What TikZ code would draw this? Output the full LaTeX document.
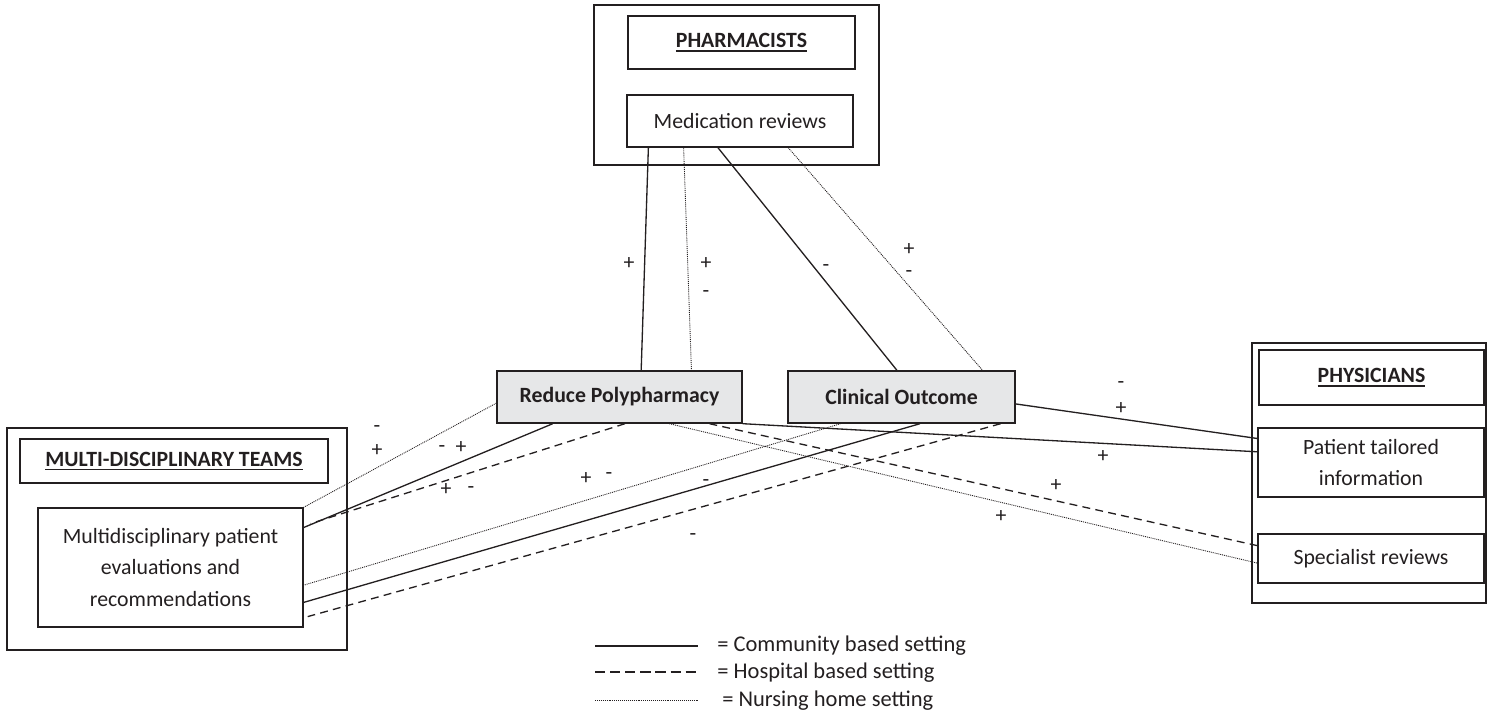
\documentclass[tikz,border=0pt]{standalone}
\usepackage{fontspec}
\setmainfont{Carlito}
\usetikzlibrary{calc}
\definecolor{boxgray}{RGB}{230,231,232}
\definecolor{inkgray}{RGB}{35,31,32}
\newcommand{\ultitle}[1]{\setbox0\hbox{#1}\leavevmode\rlap{\rule[-2.3pt]{\wd0}{0.9pt}}\box0}

\begin{document}
\begin{tikzpicture}[x=0.02cm,y=-0.02cm,
  every node/.style={inner sep=0pt,text=inkgray,font=\fontsize{12.4}{18}\selectfont},
  box/.style={draw=inkgray,line width=0.8pt,align=center},
  title/.style={box,font=\fontsize{12.4}{18}\selectfont\bfseries},
  effect/.style={box,fill=boxgray,font=\fontsize{12.4}{18}\selectfont\bfseries},
  comm/.style={draw=inkgray,line width=0.75pt},
  hosp/.style={draw=inkgray,line width=0.75pt,dash pattern=on 4.5pt off 3pt},
  nurs/.style={draw=inkgray,line width=0.5pt,dash pattern=on 0.55pt off 0.55pt},
  sign/.style={font=\fontsize{12.4}{18}\selectfont},
  legend/.style={anchor=base west,font=\fontsize{12.8}{18}\selectfont}]
\useasboundingbox (0,0) rectangle (1488,722);

% pharmacists
\node [box,minimum width=5.70cm,minimum height=3.20cm] (pharm) at (736.5,85) {};
\node [title,minimum width=4.54cm,minimum height=1.06cm] (pharmt) at (741.5,42.5) {\ultitle{PHARMACISTS}};
\node [box,minimum width=4.52cm,minimum height=1.04cm] (medrev) at (740,121) {Medication reviews};

% outcomes
\node [effect,minimum width=4.90cm,minimum height=1.04cm] (rp) at (619.5,397) {Reduce Polypharmacy};
\node [effect,minimum width=4.54cm,minimum height=1.04cm] (co) at (901.5,397) {Clinical Outcome};

% physicians
\node [box,minimum width=4.68cm,minimum height=5.20cm] (phys) at (1369,473) {};
\node [title,minimum width=4.50cm,minimum height=1.10cm] (physt) at (1371.5,377.5) {\ultitle{PHYSICIANS}};
\node [box,minimum width=4.52cm,minimum height=1.38cm] (ptinfo) at (1371,462.5) {Patient tailored\\information};
\node [box,minimum width=4.52cm,minimum height=0.98cm] (specrev) at (1371,558.5) {Specialist reviews};

% multi-disciplinary teams
\node [box,minimum width=6.80cm,minimum height=4.44cm] (mdt) at (177,539) {};
\node [title,minimum width=6.16cm,minimum height=0.88cm] (mdtt) at (174,461) {\ultitle{MULTI-DISCIPLINARY TEAMS}};
\node [box,minimum width=5.30cm,minimum height=2.38cm] (eval) at (170.5,567.5) {Multidisciplinary patient\\evaluations and\\recommendations};

% pharmacists -> outcomes
\draw [comm] ($(medrev.south west)!0.097!(medrev.south east)$) -- ($(rp.north west)!0.588!(rp.north east)$);
\draw [nurs] ($(medrev.south west)!0.252!(medrev.south east)$) -- ($(rp.north west)!0.792!(rp.north east)$);
\draw [comm] ($(medrev.south west)!0.403!(medrev.south east)$) -- ($(co.north west)!0.480!(co.north east)$);
\draw [nurs] ($(medrev.south west)!0.712!(medrev.south east)$) -- ($(co.north west)!0.855!(co.north east)$);

% teams -> outcomes
\draw [nurs] ($(rp.south west)!0.385!(rp.north west)$) -- (eval.north east);
\draw [comm] ($(rp.south west)!0.229!(rp.south east)$) -- ($(eval.north east)!0.168!(eval.south east)$);
\draw [hosp] ($(rp.south west)!0.522!(rp.south east)$) -- ($(eval.north east)!0.135!(eval.south east)+(7,0)$);
\draw [nurs] ($(co.south west)!0.233!(co.south east)$) -- ($(eval.north east)!0.647!(eval.south east)$);
\draw [comm] ($(co.south west)!0.581!(co.south east)$) -- ($(eval.north east)!0.790!(eval.south east)$);
\draw [hosp] ($(co.south west)!0.934!(co.south east)$) -- ($(eval.north east)!0.908!(eval.south east)+(4,0)$);

% physicians -> outcomes
\draw [comm] ($(co.south east)!0.37!(co.north east)$) -- ($(ptinfo.north west)!0.159!(ptinfo.south west)$);
\draw [comm] (rp.south east) -- ($(ptinfo.north west)!0.348!(ptinfo.south west)$);
\draw [hosp] ($(rp.south west)!0.865!(rp.south east)$) -- ($(specrev.north west)!0.245!(specrev.south west)$);
\draw [nurs] ($(rp.south west)!0.702!(rp.south east)$) -- ($(specrev.north west)!0.592!(specrev.south west)$);

% signs
\node [sign] (s1) at (629,264) {+};
\node [sign] (s2) at (706,264) {+};
\node [sign] (s3) at (706,294) {-};
\node [sign] (s4) at (826,268) {-};
\node [sign] (s5) at (909,250) {+};
\node [sign] (s6) at (909,274) {-};
\node [sign] (s7) at (377,429) {-};
\node [sign] (s8) at (377,451) {+};
\node [sign] (s9) at (442,449) {-};
\node [sign] (s10) at (461,448) {+};
\node [sign] (s11) at (446,490) {+};
\node [sign] (s12) at (471,490) {-};
\node [sign] (s13) at (586,479) {+};
\node [sign] (s14) at (609,476) {-};
\node [sign] (s15) at (706,483) {-};
\node [sign] (s16) at (693,537) {-};
\node [sign] (s17) at (1001,517) {+};
\node [sign] (s18) at (1121,385) {-};
\node [sign] (s19) at (1121,409) {+};
\node [sign] (s20) at (1103,457) {+};
\node [sign] (s21) at (1056,486) {+};

% legend
\coordinate (l1a) at (595,646);
\coordinate (l1b) at (698,646);
\coordinate (l2a) at (595,672);
\coordinate (l2b) at (698,672);
\coordinate (l3a) at (595,700);
\coordinate (l3b) at (698,700);
\draw [comm] (l1a) -- (l1b);
\draw [hosp,dash pattern=on 5.8pt off 2.8pt] (l2a) -- (l2b);
\draw [nurs] (l3a) -- (l3b);
\node [legend] (t1) at (717,652) {= Community based setting};
\node [legend] (t2) at (717,679) {= Hospital based setting};
\node [legend] (t3) at (722,706) {= Nursing home setting};
\end{tikzpicture}
\end{document}
